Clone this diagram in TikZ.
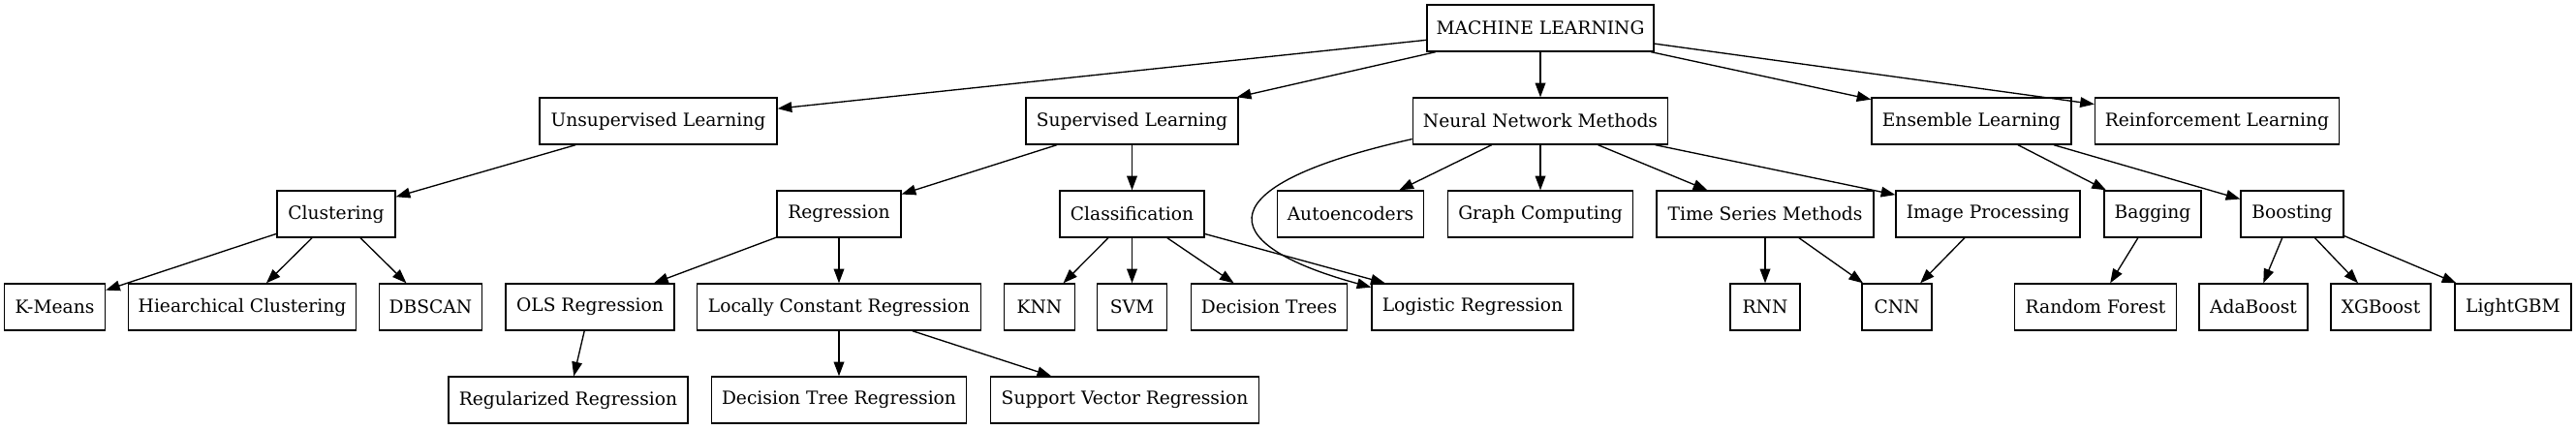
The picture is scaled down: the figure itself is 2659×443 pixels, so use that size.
\documentclass[tikz,border=0pt]{standalone}
\usepackage{fontspec}
\setmainfont{DejaVu Serif}
\usetikzlibrary{arrows.meta}
\begin{document}
\begin{tikzpicture}[x=0.75pt,y=-0.75pt,
  box/.style={draw,line width=1pt,rectangle,inner sep=0pt,minimum height=36pt,
    minimum width=#1*0.75pt,font=\fontsize{14}{16}\selectfont},
  edge/.style={line width=1pt,-{Triangle[length=11pt,width=8pt]}}]
\useasboundingbox (0,0) rectangle (2659,443);
% row 0
\node[box=234] (ml) at (1590,29) {MACHINE LEARNING};
% row 1
\node[box=245] (unsup) at (679.5,125) {Unsupervised Learning};
\node[box=219] (sup) at (1168.5,125) {Supervised Learning};
\node[box=263.5] (nn) at (1590,125) {Neural Network Methods};
\node[box=206] (ens) at (2035,125) {Ensemble Learning};
\node[box=252] (rl) at (2288.5,125) {Reinforcement Learning};
% row 2
\node[box=122] (clu) at (347,221) {Clustering};
\node[box=128] (reg) at (866,221) {Regression};
\node[box=149] (cla) at (1168.5,221) {Classification};
\node[box=151.5] (ae) at (1394,221) {Autoencoders};
\node[box=191] (gc) at (1590,221) {Graph Computing};
\node[box=224] (ts) at (1822,221) {Time Series Methods};
\node[box=190] (ip) at (2052,221) {Image Processing};
\node[box=100] (bag) at (2222,221) {Bagging};
\node[box=106] (boo) at (2366,221) {Boosting};
% row 3
\node[box=104] (km) at (56.5,317) {K-Means};
\node[box=235] (hc) at (250,317) {Hiearchical Clustering};
\node[box=106] (db) at (444.5,317) {DBSCAN};
\node[box=174] (ols) at (609,317) {OLS Regression};
\node[box=292.5] (lcr) at (866,317) {Locally Constant Regression};
\node[box=72.5] (knn) at (1073,317) {KNN};
\node[box=72] (svm) at (1168.5,317) {SVM};
\node[box=161] (dt) at (1310,317) {Decision Trees};
\node[box=208] (lr) at (1520,317) {Logistic Regression};
\node[box=72] (rnn) at (1822,317) {RNN};
\node[box=72] (cnn) at (1958,317) {CNN};
\node[box=166.5] (rf) at (2163,317) {Random Forest};
\node[box=112] (ada) at (2326,317) {AdaBoost};
\node[box=103] (xgb) at (2457.5,317) {XGBoost};
\node[box=120] (lgb) at (2594,317) {LightGBM};
% row 4
\node[box=247] (rr) at (586.5,413) {Regularized Regression};
\node[box=262.5] (dtr) at (866,413) {Decision Tree Regression};
\node[box=277.5] (svr) at (1161,413) {Support Vector Regression};
% edges
\draw[edge] (ml) -- (unsup);
\draw[edge] (ml) -- (sup);
\draw[edge] (ml) -- (nn);
\draw[edge] (ml) -- (ens);
\draw[edge] (ml) -- (rl);
\draw[edge] (unsup) -- (clu);
\draw[edge] (clu) -- (km);
\draw[edge] (clu) -- (hc);
\draw[edge] (clu) -- (db);
\draw[edge] (sup) -- (reg);
\draw[edge] (sup) -- (cla);
\draw[edge] (reg) -- (ols);
\draw[edge] (reg) -- (lcr);
\draw[edge] (ols) -- (rr);
\draw[edge] (lcr) -- (dtr);
\draw[edge] (lcr) -- (svr);
\draw[edge] (cla) -- (knn);
\draw[edge] (cla) -- (svm);
\draw[edge] (cla) -- (dt);
\draw[edge] (cla) -- (lr);
\draw[edge] (nn.188) .. controls (1250,190) and (1245,250) .. (lr.169);
\draw[edge] (nn) -- (ae);
\draw[edge] (nn) -- (gc);
\draw[edge] (nn) -- (ts);
\draw[edge] (nn) -- (ip);
\draw[edge] (ts) -- (rnn);
\draw[edge] (ts) -- (cnn);
\draw[edge] (ip) -- (cnn);
\draw[edge] (ens) -- (bag);
\draw[edge] (ens) -- (boo);
\draw[edge] (bag) -- (rf);
\draw[edge] (boo) -- (ada);
\draw[edge] (boo) -- (xgb);
\draw[edge] (boo) -- (lgb);
\end{tikzpicture}
\end{document}
